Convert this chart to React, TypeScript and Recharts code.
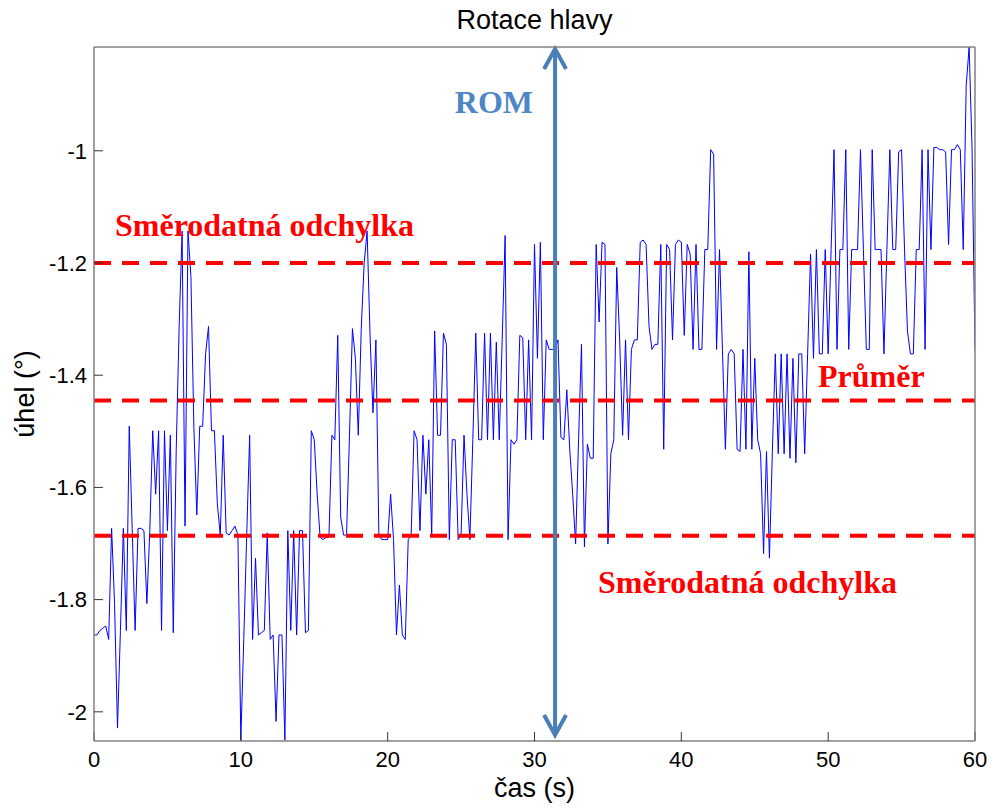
import { LineChart, Line, XAxis, YAxis, ReferenceLine, Label } from "recharts";

// head rotation signal, one value every 0.2 s (deg)
const SAMPLE_STEP = 0.2;
const angles: number[] = [
  // 0 - 9.8 s
  -1.863, -1.863, -1.855, -1.851, -1.847, -1.871, -1.673, -1.807, -2.029, -1.855,
  -1.673, -1.855, -1.491, -1.673, -1.855, -1.673, -1.673, -1.677, -1.807, -1.677,
  -1.499, -1.612, -1.499, -1.855, -1.499, -1.677, -1.507, -1.859, -1.532, -1.313,
  -1.143, -1.669, -1.143, -1.224, -1.491, -1.649, -1.491, -1.491, -1.362, -1.313,
  -1.499, -1.499, -1.629, -1.685, -1.507, -1.681, -1.685, -1.677, -1.669, -1.685,
  // 10 - 19.8 s
  -2.05, -1.871, -1.685, -1.507, -1.871, -1.726, -1.863, -1.859, -1.855, -1.681,
  -1.871, -1.863, -2.017, -1.863, -1.863, -2.05, -1.677, -1.855, -1.677, -1.863,
  -1.677, -1.677, -1.859, -1.855, -1.499, -1.515, -1.612, -1.689, -1.693, -1.689,
  -1.689, -1.507, -1.515, -1.329, -1.653, -1.685, -1.685, -1.507, -1.317, -1.37,
  -1.507, -1.317, -1.2, -1.143, -1.329, -1.467, -1.337, -1.685, -1.693, -1.693,
  // 20 - 29.8 s
  -1.693, -1.612, -1.693, -1.863, -1.774, -1.863, -1.871, -1.693, -1.685, -1.499,
  -1.515, -1.677, -1.507, -1.612, -1.515, -1.685, -1.321, -1.507, -1.507, -1.325,
  -1.345, -1.693, -1.515, -1.515, -1.693, -1.685, -1.507, -1.612, -1.693, -1.515,
  -1.325, -1.515, -1.515, -1.325, -1.515, -1.325, -1.515, -1.341, -1.515, -1.337,
  -1.151, -1.693, -1.515, -1.523, -1.515, -1.329, -1.333, -1.515, -1.337, -1.515,
  // 30 - 39.8 s
  -1.167, -1.37, -1.163, -1.515, -1.337, -1.354, -1.354, -1.354, -1.337, -1.511,
  -1.515, -1.426, -1.532, -1.612, -1.701, -1.515, -1.345, -1.706, -1.523, -1.548,
  -1.548, -1.167, -1.305, -1.163, -1.167, -1.701, -1.54, -1.515, -1.208, -1.337,
  -1.507, -1.337, -1.515, -1.354, -1.337, -1.337, -1.163, -1.159, -1.167, -1.313,
  -1.354, -1.345, -1.345, -1.167, -1.532, -1.167, -1.176, -1.337, -1.167, -1.159,
  // 40 - 49.8 s
  -1.163, -1.329, -1.167, -1.184, -1.354, -1.167, -1.354, -1.354, -1.176, -1.176,
  -0.998, -1.006, -1.354, -1.176, -1.354, -1.532, -1.362, -1.354, -1.362, -1.532,
  -1.536, -1.354, -1.532, -1.18, -1.532, -1.37, -1.515, -1.54, -1.718, -1.536,
  -1.726, -1.536, -1.362, -1.54, -1.362, -1.54, -1.362, -1.548, -1.37, -1.556,
  -1.362, -1.362, -1.54, -1.362, -1.184, -1.37, -1.176, -1.362, -1.362, -1.176,
  // 50 - 60 s
  -1.362, -1.176, -0.998, -1.354, -1.176, -1.176, -0.998, -1.354, -1.176, -1.176,
  -1.176, -0.998, -1.176, -1.354, -1.354, -0.998, -1.176, -1.176, -1.176, -1.362,
  -1.176, -0.998, -1.176, -1.176, -1.002, -0.998, -1.176, -1.321, -1.362, -1.362,
  -1.176, -1.176, -0.998, -1.354, -0.998, -1.176, -0.994, -0.994, -0.998, -0.998,
  -1.002, -1.167, -0.998, -0.998, -0.989, -0.998, -1.176, -0.884, -0.815, -0.998,
  -1.354,
];

const meanAngle = -1.445;
const sdUpper = -1.2;
const sdLower = -1.686;
const romTime = 31.4;

const xTicks = [0, 10, 20, 30, 40, 50, 60];
const yTicks = [-2, -1.8, -1.6, -1.4, -1.2, -1];
const xDomain = [0, 60];
const yDomain = [-2.052, -0.815];

const data = angles.map((v, i) => ({ t: Math.round(i * SAMPLE_STEP * 10) / 10, v }));

const SANS = "'Liberation Sans', Arial, Helvetica, sans-serif";
const SERIF = "'Liberation Serif', 'Times New Roman', serif";
const RED = "#ff0000";
const ROM_BLUE = "#4a7ebb";

const axisLine = { stroke: "#808080", strokeWidth: 1.5 };
const tickLine = { stroke: "#333", strokeWidth: 1 };
const tickFont = { fontSize: 22, fill: "#000", fontFamily: SANS };

// dashed red line with its caption; dx/dy are offsets from the line
function dashed(text: string, dx: number, dy: number) {
  return (props: any) => {
    const left = Math.min(props.x1, props.x2);
    const right = Math.max(props.x1, props.x2);
    const y = props.y1;
    return (
      <g>
        <line x1={left} y1={y} x2={right} y2={y} stroke={RED} strokeWidth={4} strokeDasharray="17 11" />
        <text x={left + dx} y={y + dy} fill={RED} fontFamily={SERIF} fontWeight="bold" fontSize={32}>
          {text}
        </text>
      </g>
    );
  };
}

function romArrow(props: any) {
  const x = props.x1;
  const top = Math.min(props.y1, props.y2);
  const bottom = Math.max(props.y1, props.y2);
  const tipTop = top + 2;
  const tipBottom = bottom - 6;
  return (
    <g>
      <line x1={x} y1={tipTop} x2={x} y2={tipBottom} stroke={ROM_BLUE} strokeWidth={4} />
      <polyline
        points={`${x - 11},${tipTop + 20} ${x},${tipTop} ${x + 11},${tipTop + 20}`}
        fill="none" stroke={ROM_BLUE} strokeWidth={4}
      />
      <polyline
        points={`${x - 11},${tipBottom - 20} ${x},${tipBottom} ${x + 11},${tipBottom - 20}`}
        fill="none" stroke={ROM_BLUE} strokeWidth={4}
      />
      <text x={x - 22} y={top + 66} textAnchor="end" fill="#4f86c6" fontFamily={SERIF} fontWeight="bold" fontSize={32}>
        ROM
      </text>
    </g>
  );
}

export default function App() {
  return (
    <div style={{ position: "absolute", left: 0, top: 0, width: 992, height: 809, background: "#fff" }}>
      <LineChart width={992} height={809} data={data} margin={{ top: 0, right: 0, bottom: 0, left: 0 }}>
        <XAxis
          dataKey="t" type="number" domain={xDomain} ticks={xTicks} interval={0} height={68}
          tickSize={-9} tickMargin={19} axisLine={axisLine} tickLine={tickLine} tick={tickFont} allowDataOverflow
        >
          <Label value="čas (s)" position="insideBottom" offset={12} fontSize={27} fill="#000" fontFamily={SANS} />
        </XAxis>
        <XAxis
          xAxisId="top" orientation="top" type="number" domain={xDomain} ticks={xTicks} interval={0} height={47}
          tickSize={-9} axisLine={axisLine} tickLine={tickLine} tick={false} allowDataOverflow
        >
          <Label value="Rotace hlavy" position="insideTop" offset={10} fontSize={27} fill="#000" fontFamily={SANS} />
        </XAxis>
        <YAxis
          type="number" domain={yDomain} ticks={yTicks} interval={0} width={94}
          tickSize={-9} tickMargin={16} axisLine={axisLine} tickLine={tickLine} tick={tickFont} allowDataOverflow
        >
          <Label
            value="úhel (°)" position="insideLeft" angle={-90} offset={24}
            fontSize={27} fill="#000" fontFamily={SANS} style={{ textAnchor: "middle" }}
          />
        </YAxis>
        <YAxis
          yAxisId="right" orientation="right" type="number" domain={yDomain} ticks={yTicks} interval={0} width={17}
          tickSize={-9} axisLine={axisLine} tickLine={tickLine} tick={false} allowDataOverflow
        />
        <Line
          type="linear" dataKey="v" stroke="#0000ff" strokeWidth={1}
          dot={false} activeDot={false} isAnimationActive={false}
        />
        <ReferenceLine y={sdUpper} shape={dashed("Směrodatná odchylka", 21, -27)} />
        <ReferenceLine y={meanAngle} shape={dashed("Průměr", 724, -13)} />
        <ReferenceLine y={sdLower} shape={dashed("Směrodatná odchylka", 504, 57)} />
        <ReferenceLine x={romTime} shape={romArrow} />
      </LineChart>
    </div>
  );
}
